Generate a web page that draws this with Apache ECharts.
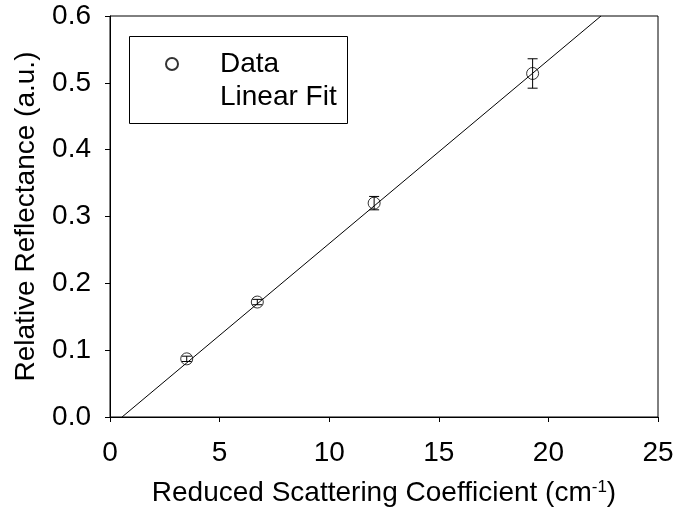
<!DOCTYPE html>
<html>
<head>
<meta charset="utf-8">
<script src="https://cdn.jsdelivr.net/npm/echarts@6/dist/echarts.min.js"></script>
<style>
  html, body { margin: 0; padding: 0; background: #fff; }
  #chart { width: 680px; height: 512px; }
</style>
</head>
<body>
<div id="chart"></div>
<script>
// Measured reflectance versus reduced scattering coefficient
const scatterX = [3.5, 6.72, 12.05, 19.28];        // cm^-1
const reflectance = [0.087, 0.172, 0.320, 0.514];  // a.u.
const reflectanceErr = [0.004, 0.004, 0.010, 0.022];

// Endpoints of the linear fit where it meets the plot frame
const fitX = [0.55, 22.4];
const fitY = [0.0, 0.6];

const xTicks = [0, 5, 10, 15, 20, 25];
const yTicks = [0.0, 0.1, 0.2, 0.3, 0.4, 0.5, 0.6];

const FONT = '"Liberation Sans", Arial, sans-serif';
const FS = 28;

const dataPoints = scatterX.map((x, i) => [x, reflectance[i]]);
const errPoints = scatterX.map((x, i) => [x, reflectance[i] - reflectanceErr[i], reflectance[i] + reflectanceErr[i]]);
const fitPoints = fitX.map((x, i) => [x, fitY[i]]);

const chart = echarts.init(document.getElementById('chart'), null, { renderer: 'canvas' });

chart.setOption({
  animation: false,
  backgroundColor: '#fff',
  grid: {
    left: 110, right: 22, top: 16, bottom: 95,
    containLabel: false,
    outerBoundsMode: 'none',
    show: true, borderColor: '#000', borderWidth: 1
  },
  xAxis: {
    type: 'value',
    min: xTicks[0], max: xTicks[xTicks.length - 1], interval: 5,
    name: 'Reduced Scattering Coefficient (cm{sup|-1})',
    nameLocation: 'middle',
    nameGap: 62,
    nameTextStyle: {
      fontFamily: FONT, fontSize: FS, color: '#000',
      rich: { sup: { fontFamily: FONT, fontSize: 17, color: '#000', padding: [0, 0, 12, 0] } }
    },
    axisLine: { lineStyle: { color: '#000', width: 1 } },
    axisTick: { length: 5, lineStyle: { color: '#000' } },
    axisLabel: { fontFamily: FONT, fontSize: FS, color: '#000', margin: 22 },
    splitLine: { show: false }
  },
  yAxis: {
    type: 'value',
    min: yTicks[0], max: yTicks[yTicks.length - 1], interval: 0.1,
    name: 'Relative Reflectance (a.u.)',
    nameLocation: 'middle',
    nameGap: 70,
    nameTextStyle: { fontFamily: FONT, fontSize: FS, color: '#000' },
    axisLine: { lineStyle: { color: '#000', width: 1 } },
    axisTick: { length: 5, lineStyle: { color: '#000' } },
    axisLabel: {
      fontFamily: FONT, fontSize: FS, color: '#000', margin: 19,
      formatter: v => v.toFixed(1)
    },
    splitLine: { show: false }
  },
  legend: {
    orient: 'vertical',
    left: 160, top: 45,
    itemWidth: 12, itemHeight: 12, itemGap: 5,
    textStyle: { fontFamily: FONT, fontSize: FS, color: '#000', padding: [0, 0, 0, 37] },
    data: [
      { name: 'Data', icon: 'circle' },
      { name: 'Linear Fit', itemStyle: { opacity: 0 }, lineStyle: { opacity: 0 } }
    ]
  },
  graphic: [{
    type: 'rect',
    shape: { x: 129.5, y: 36.5, width: 218, height: 87 },
    style: { fill: 'none', stroke: '#000', lineWidth: 1 },
    z: 100
  }],
  series: [
    {
      name: 'Linear Fit',
      type: 'line',
      data: fitPoints,
      showSymbol: false,
      symbol: 'none',
      lineStyle: { color: '#000', width: 1 },
      z: 3
    },
    {
      name: 'Data',
      type: 'scatter',
      data: dataPoints,
      symbol: 'circle',
      symbolSize: 12,
      itemStyle: { color: 'rgba(0,0,0,0)', borderColor: '#000', borderWidth: 1 },
      z: 4
    },
    {
      name: 'Error',
      type: 'custom',
      data: errPoints,
      z: 5,
      renderItem: (params, api) => {
        const x = api.value(0);
        const lo = api.coord([x, api.value(1)]);
        const hi = api.coord([x, api.value(2)]);
        const half = 5;
        const style = { stroke: '#000', lineWidth: 1 };
        return {
          type: 'group',
          children: [
            { type: 'line', shape: { x1: lo[0], y1: lo[1], x2: hi[0], y2: hi[1] }, style },
            { type: 'line', shape: { x1: lo[0] - half, y1: lo[1], x2: lo[0] + half, y2: lo[1] }, style },
            { type: 'line', shape: { x1: hi[0] - half, y1: hi[1], x2: hi[0] + half, y2: hi[1] }, style }
          ]
        };
      }
    }
  ]
});
</script>
</body>
</html>
